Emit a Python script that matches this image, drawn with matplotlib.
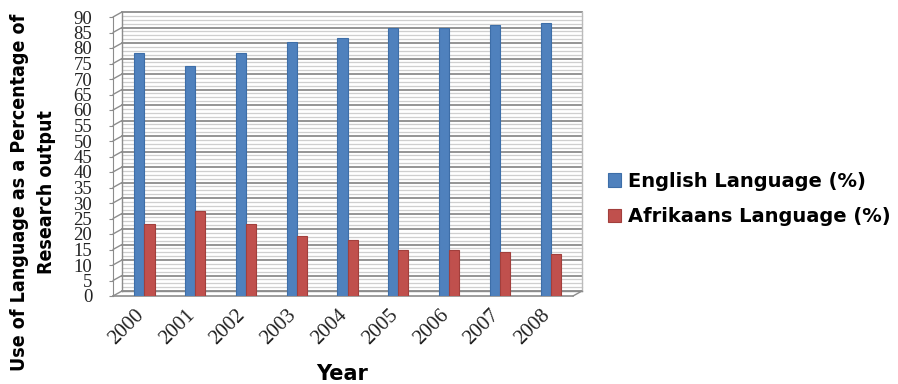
import matplotlib
matplotlib.use("Agg")
import matplotlib.pyplot as plt
import matplotlib.transforms as mtransforms
from matplotlib import font_manager
import numpy as np

years = ["2000", "2001", "2002", "2003", "2004", "2005", "2006", "2007", "2008"]
english = [78.3, 74.3, 78.5, 81.9, 83.3, 86.6, 86.6, 87.3, 88.1]
afrikaans = [23.3, 27.3, 23.1, 19.5, 18.1, 14.9, 14.8, 14.3, 13.5]
yticks = list(range(0, 95, 5))

# condensed bold for the y label if there is one, else plain Liberation Sans
fp = font_manager.FontProperties(family="DejaVu Sans", weight="bold", stretch="condensed")
path = font_manager.findfont(fp)
if "Condensed" in path:
    ylab_font = dict(family="DejaVu Sans", fontstretch="condensed", fontsize=14)
else:
    ylab_font = dict(family="Liberation Sans", fontsize=12.5)
serif = "Liberation Serif"

W, H = 898, 384
fig = plt.figure(figsize=(W / 100, H / 100), dpi=100)
# front axis: x 113..573 px, y 0 -> 296 px, 90 -> 17 px
ax = fig.add_axes([113 / W, (H - 296) / H, (573 - 113) / W, (296 - 17) / H])
ax.set_xlim(-0.62, 8.44)
ax.set_ylim(0, 90)
ax.patch.set_alpha(0)

# back wall offset (3D look)
dx, dy = 9, 5
shift = mtransforms.ScaledTranslation(dx / 100, dy / 100, fig.dpi_scale_trans)
back = ax.transAxes + shift
yback = ax.get_yaxis_transform() + shift

# minor and major wall gridlines
for v in np.arange(0, 90.01, 1.25):
    major = abs(v / 5 - round(v / 5)) < 1e-6
    ax.plot([0, 1], [v, v], transform=yback, color="#8c8c8c" if major else "#cfcfcf",
            lw=1.3 if major else 0.9, clip_on=False, zorder=0)
for v in yticks:
    y0 = ax.transData.transform((0, v))[1]
    x0 = ax.transAxes.transform((0, 0))[0]
    ax.annotate("", xy=(x0 + dx, y0 + dy), xytext=(x0, y0), xycoords="figure pixels",
                textcoords="figure pixels",
                arrowprops=dict(arrowstyle="-", color="#8c8c8c", lw=1.0, shrinkA=0, shrinkB=0))
# wall edges
ax.plot([0, 0], [0, 1], transform=back, color="#8c8c8c", lw=1, clip_on=False, zorder=0)
ax.plot([1, 1], [0, 1], transform=back, color="#bbbbbb", lw=1, clip_on=False, zorder=0)
# floor
ax.plot([0, 1], [0, 0], transform=ax.transAxes, color="#8c8c8c", lw=1.2, clip_on=False, zorder=1)
ax.plot([0, 1], [0, 0], transform=back, color="#8c8c8c", lw=1.0, clip_on=False, zorder=0)
x1 = ax.transAxes.transform((1, 0))
ax.annotate("", xy=(x1[0] + dx, x1[1] + dy), xytext=(x1[0], x1[1]), xycoords="figure pixels",
            textcoords="figure pixels",
            arrowprops=dict(arrowstyle="-", color="#8c8c8c", lw=1.0, shrinkA=0, shrinkB=0))

x = np.arange(len(years))
w = 0.2
ax.bar(x - w / 2, english, w, color="#4F81BD", edgecolor="#3d6ea8", lw=0.8, zorder=3,
       label="English Language (%)")
ax.bar(x + w / 2, afrikaans, w, color="#C0504D", edgecolor="#a23f3c", lw=0.8, zorder=3,
       label="Afrikaans Language (%)")

for s in ["top", "right", "bottom"]:
    ax.spines[s].set_visible(False)
ax.spines["left"].set_color("#8c8c8c")
ax.set_yticks(yticks)
ax.set_yticklabels([str(v) for v in yticks], family=serif, fontsize=13.5, color="#222222")
ax.tick_params(axis="y", length=3, color="#8c8c8c", pad=12)
ax.set_xticks(x)
ax.set_xticklabels(years, rotation=45, ha="right", va="top", rotation_mode="anchor",
                   family=serif, fontsize=15, color="#222222")
ax.tick_params(axis="x", length=0, pad=7)
lab_shift = mtransforms.ScaledTranslation(-10 / 100, 0, fig.dpi_scale_trans)
for t in ax.get_xticklabels():
    t.set_transform(t.get_transform() + lab_shift)

fig.text(342 / W, (H - 374) / H, "Year", ha="center", va="center", fontsize=15,
         fontweight="bold", family="DejaVu Sans")
fig.text(33 / W, 0.5, "Use of Language as a Percentage of\nResearch output", rotation=90,
         ha="center", va="center", multialignment="center", fontweight="bold",
         linespacing=1.55, **ylab_font)

fig.legend(loc="center left", bbox_to_anchor=(590 / W, (H - 199) / H), frameon=False,
           handlelength=0.7, handleheight=0.7, handletextpad=0.35, labelspacing=0.85,
           prop=dict(family="DejaVu Sans", weight="bold", size=14))

fig.savefig("out.png", dpi=100)
